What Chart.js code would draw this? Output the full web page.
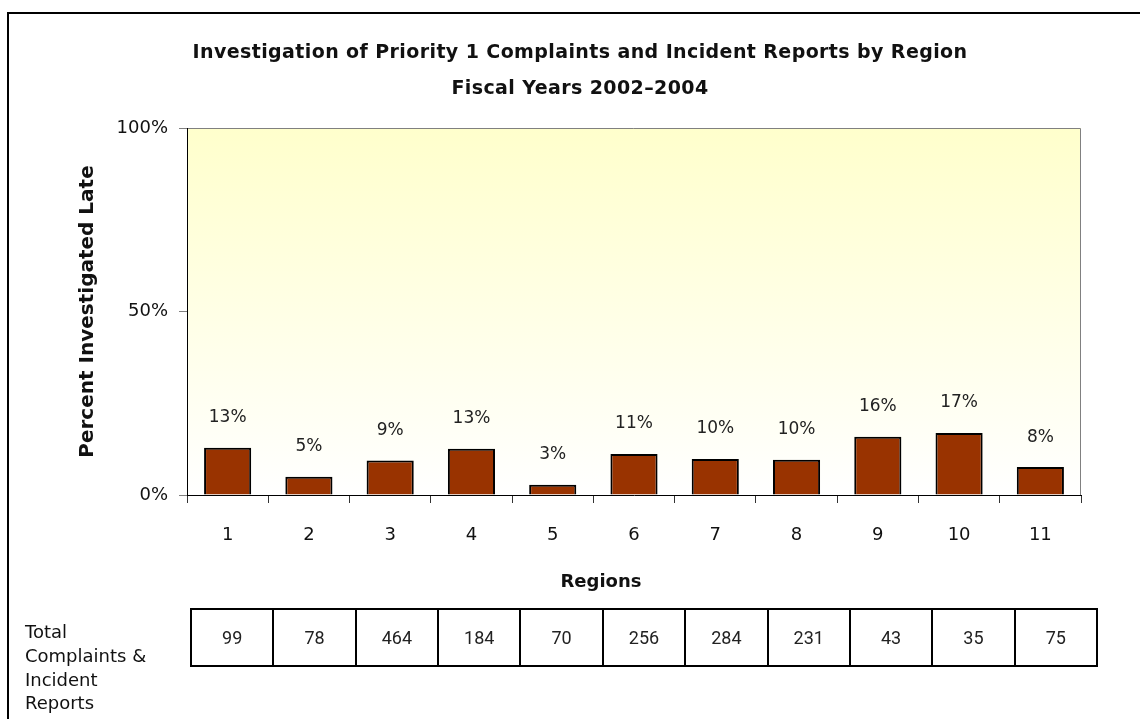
<!DOCTYPE html>
<html>
<head>
<meta charset="utf-8">
<script src="https://cdn.jsdelivr.net/npm/chart.js@4.4.1/dist/chart.umd.min.js"></script>
<style>
  html, body { margin: 0; padding: 0; background: #fff; }
  body { width: 1140px; height: 719px; position: relative; overflow: hidden; }
  #frame { position: absolute; left: 7px; top: 12px; width: 1200px; height: 800px;
           border-left: 2px solid #000; border-top: 2px solid #000; }
  #wrap { position: absolute; left: 0; top: 0; width: 1140px; height: 719px; }
  .judul { position: absolute; left: 80px; width: 1000px; text-align: center; white-space: nowrap;
           font: bold 19px "DejaVu Sans", sans-serif; letter-spacing: 0.4px; color: #111; }
  #judul1 { top: 40px; }
  #judul2 { top: 76px; }
  #sumbuX { position: absolute; left: 501px; width: 200px; top: 570px; text-align: center;
            font: bold 18px "DejaVu Sans", sans-serif; color: #111; }
  #rowLabel { position: absolute; left: 25px; top: 620px; font: 18px "DejaVu Sans", sans-serif;
              line-height: 23.8px; color: #111; }
  #tabel { position: absolute; left: 190px; top: 608px; border-collapse: collapse;
           table-layout: fixed; width: 908px; font: 18px Roboto, sans-serif; color: #222; }
  #tabel td { border: 2px solid #000; height: 55px; text-align: center; padding: 0; }
</style>
</head>
<body>
<div id="frame"></div>
<div id="wrap"><canvas id="grafik" width="1140" height="719"></canvas></div>
<div class="judul" id="judul1">Investigation of Priority 1 Complaints and Incident Reports by Region</div>
<div class="judul" id="judul2">Fiscal Years 2002&ndash;2004</div>
<div id="sumbuX">Regions</div>
<div id="rowLabel">Total<br>Complaints &amp;<br>Incident<br>Reports</div>
<table id="tabel"><tr id="barisTotal"></tr></table>
<script>
// Data dari gambar
const regions = ['1', '2', '3', '4', '5', '6', '7', '8', '9', '10', '11'];
const persenTerlambat = [12.9, 5.0, 9.4, 12.6, 2.8, 11.2, 9.8, 9.6, 15.9, 16.9, 7.6];
const totalLaporan = [99, 78, 464, 184, 70, 256, 284, 231, 43, 35, 75];
const yTicks = [0, 50, 100];

// Tabel total di bawah grafik
const baris = document.getElementById('barisTotal');
totalLaporan.forEach(function(n) {
    const td = document.createElement('td');
    td.textContent = n;
    baris.appendChild(td);
});

const fontUtama = '"DejaVu Sans", sans-serif';

// Latar gradasi + bingkai atas/kanan
const latarPlugin = {
    id: 'latar',
    beforeDraw(chart) {
        const a = chart.chartArea;
        const ctx = chart.ctx;
        const g = ctx.createLinearGradient(0, a.top, 0, a.bottom);
        g.addColorStop(0, '#FFFFCC');
        g.addColorStop(1, '#FFFFFF');
        ctx.save();
        ctx.fillStyle = g;
        ctx.fillRect(a.left, a.top, a.right - a.left, a.bottom - a.top);
        ctx.strokeStyle = '#808080';
        ctx.lineWidth = 1;
        ctx.beginPath();
        ctx.moveTo(a.left, a.top + 0.5);
        ctx.lineTo(a.right - 0.5, a.top + 0.5);
        ctx.lineTo(a.right - 0.5, a.bottom);
        ctx.stroke();
        ctx.restore();
    }
};

// Label persen di atas batang
const labelPlugin = {
    id: 'labelPersen',
    afterDatasetsDraw(chart) {
        const ctx = chart.ctx;
        const meta = chart.getDatasetMeta(0);
        ctx.save();
        ctx.font = '17px ' + fontUtama;
        ctx.fillStyle = '#222';
        ctx.textAlign = 'center';
        ctx.textBaseline = 'middle';
        meta.data.forEach(function(bar, i) {
            ctx.fillText(Math.round(persenTerlambat[i]) + '%', bar.x, bar.y - 30);
        });
        ctx.restore();
    }
};

const ctx = document.getElementById('grafik').getContext('2d');
const chart = new Chart(ctx, {
    type: 'bar',
    data: {
        labels: regions,
        datasets: [{
            data: persenTerlambat,
            backgroundColor: '#993300',
            borderColor: '#000000',
            borderWidth: 2,
            borderSkipped: 'bottom',
            barPercentage: 0.58,
            categoryPercentage: 1.0
        }]
    },
    options: {
        responsive: false,
        animation: false,
        layout: { padding: { left: 10, top: 128, right: 59, bottom: 124 } },
        plugins: {
            legend: { display: false },
            tooltip: { enabled: false },
            title: { display: false }
        },
        scales: {
            x: {
                afterFit(s) { s.height = 100; },
                grid: { offset: true, drawOnChartArea: false, drawTicks: true, tickLength: 8, color: '#333' },
                border: { color: '#000', width: 1 },
                ticks: { color: '#111', font: { family: fontUtama, size: 18 }, padding: 22 }
            },
            y: {
                min: 0, max: 100,
                afterFit(s) { s.width = 177; },
                afterBuildTicks(s) { s.ticks = yTicks.map(v => ({ value: v })); },
                grid: { drawOnChartArea: false, drawTicks: true, tickLength: 8, color: '#808080' },
                border: { color: '#000', width: 1 },
                ticks: {
                    color: '#111', font: { family: fontUtama, size: 18 }, padding: 11,
                    callback: v => v + '%'
                },
                title: {
                    display: true, text: 'Percent Investigated Late', color: '#111',
                    font: { family: fontUtama, size: 20, weight: 'bold' },
                    padding: { top: 66, bottom: 0 }
                }
            }
        }
    },
    plugins: [latarPlugin, labelPlugin]
});
</script>
</body>
</html>
